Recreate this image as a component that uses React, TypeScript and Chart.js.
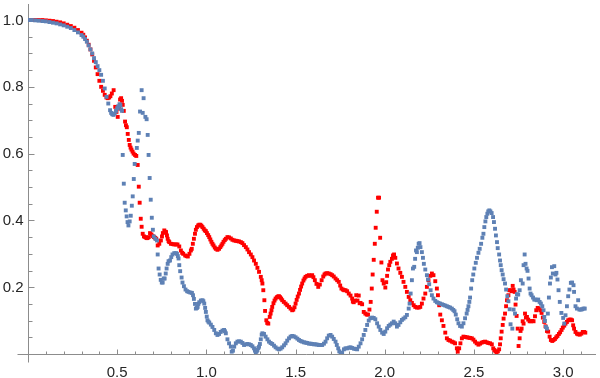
import React, { useEffect, useRef } from "react";
import { Chart, registerables } from "chart.js";

Chart.register(...registerables);

// [x, y] samples
const redSeries: [number, number][] = [
  [0.0, 1.0], [0.02, 1.0], [0.04, 1.0], [0.06, 1.0], [0.08, 1.0], [0.1, 0.999], [0.12, 0.998], [0.14, 0.997],
  [0.16, 0.995], [0.18, 0.993], [0.2, 0.99], [0.22, 0.986], [0.24, 0.982], [0.26, 0.977], [0.28, 0.97], [0.3, 0.962],
  [0.31, 0.956], [0.32, 0.948], [0.33, 0.938], [0.34, 0.926], [0.35, 0.912], [0.36, 0.897], [0.37, 0.878], [0.38, 0.858],
  [0.39, 0.838], [0.4, 0.818], [0.41, 0.8], [0.42, 0.788], [0.43, 0.776], [0.44, 0.768], [0.447, 0.766], [0.455, 0.768],
  [0.462, 0.772], [0.47, 0.78], [0.48, 0.79], [0.489, 0.74], [0.496, 0.725], [0.503, 0.71], [0.51, 0.735], [0.516, 0.762],
  [0.522, 0.766], [0.527, 0.758], [0.531, 0.746], [0.537, 0.728], [0.544, 0.696], [0.549, 0.685], [0.554, 0.679], [0.559, 0.659],
  [0.565, 0.641], [0.57, 0.626], [0.575, 0.618], [0.58, 0.612], [0.586, 0.606], [0.592, 0.6], [0.6, 0.596], [0.607, 0.593],
  [0.615, 0.566], [0.621, 0.501], [0.626, 0.453], [0.632, 0.405], [0.637, 0.381], [0.643, 0.36], [0.65, 0.352], [0.657, 0.35],
  [0.664, 0.347], [0.67, 0.347], [0.677, 0.35], [0.684, 0.362], [0.692, 0.358], [0.699, 0.353], [0.706, 0.35], [0.713, 0.348],
  [0.719, 0.345], [0.727, 0.325], [0.736, 0.33], [0.745, 0.34], [0.751, 0.352], [0.756, 0.362], [0.764, 0.37], [0.77, 0.366],
  [0.774, 0.365], [0.779, 0.355], [0.783, 0.345], [0.788, 0.338], [0.792, 0.335], [0.801, 0.33], [0.81, 0.329], [0.82, 0.328],
  [0.829, 0.328], [0.838, 0.328], [0.848, 0.322], [0.857, 0.31], [0.864, 0.303], [0.87, 0.3], [0.881, 0.295], [0.889, 0.293],
  [0.896, 0.292], [0.905, 0.3], [0.913, 0.31], [0.918, 0.315], [0.924, 0.33], [0.93, 0.345], [0.936, 0.36], [0.941, 0.372],
  [0.947, 0.38], [0.954, 0.385], [0.96, 0.387], [0.966, 0.387], [0.972, 0.384], [0.978, 0.38], [0.985, 0.375], [0.991, 0.37],
  [0.997, 0.368], [1.003, 0.362], [1.01, 0.356], [1.016, 0.35], [1.022, 0.343], [1.028, 0.336], [1.034, 0.33], [1.04, 0.325],
  [1.047, 0.319], [1.053, 0.315], [1.062, 0.312], [1.071, 0.315], [1.078, 0.32], [1.084, 0.325], [1.09, 0.33], [1.096, 0.336],
  [1.103, 0.341], [1.109, 0.345], [1.118, 0.35], [1.127, 0.349], [1.137, 0.346], [1.146, 0.342], [1.156, 0.34], [1.165, 0.339],
  [1.174, 0.338], [1.183, 0.337], [1.193, 0.335], [1.202, 0.332], [1.211, 0.326], [1.221, 0.32], [1.23, 0.313], [1.239, 0.305],
  [1.249, 0.298], [1.258, 0.29], [1.267, 0.28], [1.277, 0.27], [1.286, 0.258], [1.295, 0.246], [1.305, 0.231], [1.31, 0.221],
  [1.314, 0.211], [1.319, 0.191], [1.325, 0.161], [1.329, 0.129], [1.336, 0.101], [1.341, 0.093], [1.347, 0.091], [1.355, 0.111],
  [1.36, 0.121], [1.365, 0.131], [1.369, 0.141], [1.376, 0.152], [1.382, 0.16], [1.388, 0.166], [1.395, 0.17], [1.401, 0.172],
  [1.407, 0.173], [1.413, 0.17], [1.419, 0.166], [1.425, 0.161], [1.434, 0.156], [1.444, 0.151], [1.453, 0.146], [1.463, 0.141],
  [1.472, 0.136], [1.481, 0.131], [1.487, 0.133], [1.494, 0.14], [1.5, 0.151], [1.506, 0.162], [1.512, 0.172], [1.519, 0.181],
  [1.525, 0.192], [1.531, 0.202], [1.537, 0.211], [1.544, 0.22], [1.55, 0.226], [1.556, 0.231], [1.565, 0.234], [1.575, 0.236],
  [1.584, 0.234], [1.593, 0.236], [1.6, 0.23], [1.608, 0.221], [1.617, 0.21], [1.627, 0.201], [1.636, 0.208], [1.646, 0.221],
  [1.655, 0.232], [1.662, 0.238], [1.668, 0.241], [1.677, 0.242], [1.686, 0.241], [1.696, 0.239], [1.705, 0.236], [1.714, 0.232],
  [1.724, 0.226], [1.733, 0.221], [1.742, 0.216], [1.75, 0.205], [1.757, 0.196], [1.765, 0.193], [1.772, 0.191], [1.78, 0.191],
  [1.789, 0.188], [1.798, 0.181], [1.808, 0.175], [1.817, 0.166], [1.821, 0.157], [1.826, 0.155], [1.833, 0.16], [1.84, 0.176],
  [1.847, 0.16], [1.854, 0.175], [1.859, 0.152], [1.864, 0.153], [1.873, 0.149], [1.882, 0.126], [1.891, 0.121], [1.899, 0.118],
  [1.906, 0.118], [1.914, 0.133], [1.921, 0.156], [1.927, 0.196], [1.932, 0.238], [1.938, 0.282], [1.944, 0.33], [1.949, 0.378],
  [1.955, 0.426], [1.962, 0.468], [1.968, 0.468], [1.974, 0.348], [1.981, 0.274], [1.987, 0.221], [1.994, 0.211], [2.003, 0.199],
  [2.008, 0.215], [2.013, 0.234], [2.018, 0.253], [2.025, 0.266], [2.031, 0.276], [2.04, 0.285], [2.046, 0.295], [2.052, 0.298],
  [2.059, 0.288], [2.068, 0.271], [2.077, 0.256], [2.087, 0.243], [2.096, 0.231], [2.105, 0.216], [2.115, 0.201], [2.124, 0.186],
  [2.134, 0.171], [2.143, 0.161], [2.152, 0.153], [2.162, 0.146], [2.171, 0.141], [2.18, 0.139], [2.19, 0.139], [2.199, 0.141],
  [2.208, 0.151], [2.217, 0.166], [2.227, 0.181], [2.236, 0.201], [2.245, 0.221], [2.255, 0.234], [2.264, 0.241], [2.273, 0.236],
  [2.283, 0.218], [2.292, 0.196], [2.298, 0.176], [2.305, 0.146], [2.311, 0.118], [2.32, 0.101], [2.329, 0.084], [2.339, 0.064],
  [2.348, 0.047], [2.357, 0.042], [2.366, 0.04], [2.376, 0.037], [2.385, 0.035], [2.394, 0.032], [2.404, 0.017], [2.409, 0.007],
  [2.417, 0.017], [2.424, 0.032], [2.432, 0.047], [2.441, 0.052], [2.45, 0.051], [2.46, 0.05], [2.469, 0.049], [2.478, 0.048],
  [2.488, 0.047], [2.497, 0.043], [2.506, 0.037], [2.515, 0.032], [2.525, 0.028], [2.534, 0.031], [2.543, 0.034], [2.553, 0.036],
  [2.562, 0.037], [2.571, 0.035], [2.58, 0.033], [2.59, 0.032], [2.6, 0.029], [2.608, 0.017], [2.614, 0.012], [2.62, 0.008],
  [2.627, 0.004], [2.634, 0.008], [2.641, 0.014], [2.646, 0.029], [2.65, 0.047], [2.655, 0.067], [2.661, 0.087], [2.666, 0.106],
  [2.674, 0.121], [2.68, 0.143], [2.685, 0.161], [2.693, 0.176], [2.698, 0.191], [2.705, 0.191], [2.711, 0.188], [2.717, 0.204],
  [2.722, 0.193], [2.728, 0.186], [2.733, 0.148], [2.739, 0.114], [2.745, 0.076], [2.75, 0.024], [2.756, 0.047], [2.761, 0.069],
  [2.767, 0.076], [2.773, 0.098], [2.778, 0.091], [2.786, 0.121], [2.791, 0.109], [2.797, 0.111], [2.804, 0.103], [2.812, 0.098],
  [2.82, 0.098], [2.827, 0.099], [2.834, 0.098], [2.842, 0.113], [2.849, 0.131], [2.857, 0.138], [2.864, 0.136], [2.872, 0.131],
  [2.879, 0.123], [2.886, 0.109], [2.894, 0.096], [2.901, 0.083], [2.909, 0.069], [2.916, 0.067], [2.924, 0.052], [2.931, 0.042],
  [2.939, 0.039], [2.946, 0.042], [2.954, 0.045], [2.961, 0.05], [2.968, 0.054], [2.976, 0.06], [2.983, 0.065], [2.991, 0.072],
  [2.998, 0.079], [3.006, 0.085], [3.013, 0.091], [3.021, 0.096], [3.028, 0.101], [3.036, 0.103], [3.043, 0.103], [3.05, 0.101],
  [3.056, 0.086], [3.061, 0.076], [3.069, 0.066], [3.077, 0.061], [3.084, 0.059], [3.093, 0.058], [3.102, 0.061], [3.11, 0.066],
  [3.117, 0.066], [3.124, 0.064],
];

const blueSeries: [number, number][] = [
  [0.0, 1.0], [0.02, 1.0], [0.04, 0.999], [0.06, 0.998], [0.08, 0.997], [0.1, 0.996], [0.12, 0.994], [0.14, 0.992],
  [0.16, 0.99], [0.18, 0.987], [0.2, 0.984], [0.22, 0.98], [0.24, 0.976], [0.26, 0.97], [0.28, 0.963], [0.3, 0.955],
  [0.31, 0.95], [0.32, 0.943], [0.33, 0.935], [0.34, 0.924], [0.35, 0.912], [0.36, 0.9], [0.37, 0.886], [0.38, 0.874],
  [0.39, 0.862], [0.4, 0.85], [0.41, 0.836], [0.42, 0.818], [0.43, 0.795], [0.44, 0.77], [0.45, 0.75], [0.46, 0.73],
  [0.466, 0.722], [0.472, 0.718], [0.479, 0.716], [0.486, 0.72], [0.493, 0.728], [0.5, 0.736], [0.506, 0.742], [0.513, 0.748],
  [0.518, 0.745], [0.522, 0.733], [0.527, 0.728], [0.531, 0.596], [0.537, 0.51], [0.542, 0.453], [0.548, 0.43], [0.553, 0.412],
  [0.558, 0.395], [0.563, 0.385], [0.57, 0.397], [0.576, 0.414], [0.582, 0.444], [0.587, 0.472], [0.593, 0.524], [0.598, 0.569],
  [0.61, 0.617], [0.615, 0.639], [0.621, 0.662], [0.628, 0.726], [0.637, 0.79], [0.643, 0.722], [0.648, 0.766], [0.658, 0.71],
  [0.665, 0.703], [0.671, 0.656], [0.676, 0.596], [0.682, 0.527], [0.688, 0.462], [0.694, 0.408], [0.7, 0.372], [0.705, 0.352],
  [0.714, 0.345], [0.723, 0.34], [0.727, 0.298], [0.732, 0.256], [0.738, 0.238], [0.744, 0.222], [0.75, 0.214], [0.755, 0.214],
  [0.761, 0.226], [0.766, 0.226], [0.772, 0.241], [0.777, 0.256], [0.783, 0.27], [0.788, 0.278], [0.796, 0.28], [0.803, 0.29],
  [0.81, 0.298], [0.82, 0.302], [0.83, 0.302], [0.835, 0.3], [0.84, 0.293], [0.844, 0.286], [0.848, 0.266], [0.853, 0.248],
  [0.861, 0.229], [0.866, 0.214], [0.874, 0.203], [0.883, 0.193], [0.892, 0.188], [0.9, 0.186], [0.91, 0.184], [0.919, 0.183],
  [0.925, 0.176], [0.93, 0.165], [0.936, 0.15], [0.941, 0.136], [0.947, 0.138], [0.951, 0.141], [0.955, 0.15], [0.96, 0.155],
  [0.969, 0.16], [0.978, 0.161], [0.983, 0.158], [0.988, 0.151], [0.993, 0.138], [0.997, 0.126], [1.002, 0.112], [1.006, 0.101],
  [1.011, 0.097], [1.016, 0.094], [1.025, 0.088], [1.034, 0.081], [1.044, 0.072], [1.053, 0.062], [1.062, 0.057], [1.071, 0.06],
  [1.08, 0.066], [1.09, 0.07], [1.099, 0.072], [1.104, 0.068], [1.109, 0.062], [1.118, 0.044], [1.127, 0.032], [1.137, 0.022],
  [1.142, 0.007], [1.149, 0.01], [1.156, 0.022], [1.165, 0.032], [1.174, 0.037], [1.183, 0.038], [1.193, 0.037], [1.202, 0.033],
  [1.211, 0.027], [1.221, 0.029], [1.23, 0.03], [1.24, 0.029], [1.249, 0.027], [1.258, 0.023], [1.267, 0.017], [1.272, 0.01],
  [1.277, 0.004], [1.282, 0.008], [1.286, 0.012], [1.291, 0.018], [1.295, 0.022], [1.3, 0.03], [1.305, 0.044], [1.31, 0.058],
  [1.314, 0.062], [1.323, 0.06], [1.332, 0.052], [1.342, 0.044], [1.351, 0.037], [1.36, 0.033], [1.369, 0.03], [1.379, 0.025],
  [1.388, 0.02], [1.398, 0.016], [1.407, 0.014], [1.416, 0.016], [1.425, 0.02], [1.435, 0.026], [1.444, 0.032], [1.453, 0.04],
  [1.463, 0.047], [1.472, 0.052], [1.481, 0.054], [1.49, 0.053], [1.5, 0.05], [1.51, 0.046], [1.519, 0.042], [1.528, 0.039],
  [1.537, 0.037], [1.547, 0.035], [1.556, 0.034], [1.565, 0.033], [1.575, 0.031], [1.584, 0.031], [1.593, 0.03], [1.603, 0.029],
  [1.612, 0.029], [1.622, 0.028], [1.631, 0.027], [1.64, 0.027], [1.649, 0.027], [1.659, 0.031], [1.668, 0.037], [1.677, 0.047],
  [1.686, 0.055], [1.696, 0.057], [1.705, 0.052], [1.714, 0.045], [1.724, 0.037], [1.731, 0.027], [1.739, 0.017], [1.745, 0.008],
  [1.752, 0.002], [1.761, 0.004], [1.771, 0.014], [1.78, 0.017], [1.79, 0.017], [1.8, 0.019], [1.808, 0.02], [1.817, 0.018],
  [1.827, 0.016], [1.836, 0.015], [1.845, 0.014], [1.854, 0.022], [1.864, 0.032], [1.873, 0.044], [1.882, 0.057], [1.891, 0.072],
  [1.901, 0.087], [1.91, 0.1], [1.919, 0.107], [1.929, 0.109], [1.938, 0.108], [1.947, 0.104], [1.957, 0.092], [1.966, 0.082],
  [1.975, 0.072], [1.985, 0.064], [1.994, 0.06], [2.003, 0.067], [2.013, 0.077], [2.022, 0.084], [2.031, 0.088], [2.04, 0.092],
  [2.05, 0.097], [2.059, 0.092], [2.068, 0.082], [2.077, 0.087], [2.087, 0.095], [2.096, 0.102], [2.105, 0.106], [2.115, 0.11],
  [2.124, 0.117], [2.134, 0.136], [2.139, 0.151], [2.145, 0.181], [2.152, 0.221], [2.158, 0.256], [2.165, 0.261], [2.17, 0.285],
  [2.175, 0.31], [2.18, 0.305], [2.185, 0.318], [2.19, 0.33], [2.195, 0.332], [2.2, 0.32], [2.208, 0.305], [2.214, 0.288],
  [2.219, 0.27], [2.227, 0.253], [2.236, 0.236], [2.242, 0.223], [2.249, 0.209], [2.257, 0.191], [2.264, 0.176], [2.273, 0.166],
  [2.283, 0.159], [2.292, 0.155], [2.301, 0.153], [2.31, 0.151], [2.32, 0.149], [2.329, 0.147], [2.339, 0.145], [2.348, 0.143],
  [2.357, 0.141], [2.366, 0.139], [2.376, 0.136], [2.384, 0.132], [2.391, 0.128], [2.398, 0.118], [2.406, 0.104], [2.413, 0.092],
  [2.422, 0.084], [2.432, 0.082], [2.441, 0.092], [2.45, 0.107], [2.459, 0.121], [2.464, 0.132], [2.469, 0.143], [2.474, 0.156],
  [2.478, 0.169], [2.484, 0.196], [2.49, 0.221], [2.496, 0.238], [2.502, 0.256], [2.51, 0.273], [2.517, 0.288], [2.525, 0.303],
  [2.532, 0.315], [2.54, 0.33], [2.547, 0.348], [2.553, 0.36], [2.558, 0.38], [2.564, 0.397], [2.569, 0.41], [2.575, 0.42],
  [2.58, 0.427], [2.586, 0.43], [2.592, 0.427], [2.599, 0.422], [2.607, 0.41], [2.612, 0.395], [2.618, 0.375], [2.623, 0.355],
  [2.629, 0.335], [2.633, 0.317], [2.641, 0.298], [2.646, 0.28], [2.65, 0.266], [2.655, 0.251], [2.661, 0.238], [2.666, 0.224],
  [2.674, 0.211], [2.68, 0.193], [2.687, 0.173], [2.693, 0.158], [2.7, 0.134], [2.705, 0.089], [2.715, 0.076], [2.722, 0.133],
  [2.73, 0.121], [2.736, 0.166], [2.741, 0.179], [2.748, 0.178], [2.756, 0.191], [2.763, 0.221], [2.773, 0.211], [2.778, 0.266],
  [2.784, 0.298], [2.789, 0.27], [2.795, 0.256], [2.8, 0.249], [2.806, 0.226], [2.812, 0.196], [2.817, 0.181], [2.823, 0.176],
  [2.831, 0.169], [2.838, 0.163], [2.845, 0.163], [2.853, 0.161], [2.86, 0.163], [2.868, 0.156], [2.875, 0.151], [2.883, 0.143],
  [2.89, 0.131], [2.894, 0.111], [2.898, 0.099], [2.903, 0.081], [2.909, 0.076], [2.914, 0.121], [2.92, 0.169], [2.926, 0.211],
  [2.931, 0.229], [2.937, 0.26], [2.942, 0.241], [2.95, 0.263], [2.957, 0.238], [2.962, 0.243], [2.968, 0.223], [2.974, 0.191],
  [2.981, 0.156], [2.99, 0.123], [3.0, 0.108], [3.006, 0.091], [3.013, 0.116], [3.021, 0.143], [3.028, 0.173], [3.035, 0.193],
  [3.043, 0.213], [3.05, 0.214], [3.058, 0.206], [3.061, 0.186], [3.069, 0.143], [3.077, 0.136], [3.084, 0.161], [3.091, 0.133],
  [3.099, 0.133], [3.106, 0.134], [3.114, 0.136], [3.121, 0.136],
];

const xTickValues = [0.5, 1.0, 1.5, 2.0, 2.5, 3.0];
const xTickLabels = ["0.5", "1.0", "1.5", "2.0", "2.5", "3.0"];
const yTickValues = [0.2, 0.4, 0.6, 0.8, 1.0];
const yTickLabels = ["0.2", "0.4", "0.6", "0.8", "1.0"];
const xMinorStep = 0.1;
const yMinorStep = 0.05;

const RED = "#ff0000";
const BLUE = "#5e81b5";
const AXIS = "#8c8c8c";
const LABEL = "#262626";
const FONT = '15px "Liberation Sans", Arial, sans-serif';

const axesPlugin = {
  id: "mmaAxes",
  beforeDatasetsDraw(chart: any) {
    const ctx = chart.ctx as CanvasRenderingContext2D;
    const xs = chart.scales.x;
    const ys = chart.scales.y;
    const ox = Math.round(xs.getPixelForValue(0)) + 0.5;
    const oy = Math.round(ys.getPixelForValue(0)) + 0.5;
    const right = chart.chartArea.right;
    const top = chart.chartArea.top;
    ctx.save();
    ctx.strokeStyle = AXIS;
    ctx.lineWidth = 1;
    ctx.beginPath();
    ctx.moveTo(ox - 11, oy);
    ctx.lineTo(right, oy);
    ctx.moveTo(ox, top);
    ctx.lineTo(ox, oy + 8);
    for (let v = xMinorStep; v <= xs.max + 1e-9; v += xMinorStep) {
      const isMajor = xTickValues.some((t) => Math.abs(t - v) < 1e-6);
      const px = Math.round(xs.getPixelForValue(v)) + 0.5;
      ctx.moveTo(px, oy);
      ctx.lineTo(px, oy - (isMajor ? 5 : 3));
    }
    for (let v = yMinorStep; v <= ys.max + 1e-9; v += yMinorStep) {
      const isMajor = yTickValues.some((t) => Math.abs(t - v) < 1e-6);
      const py = Math.round(ys.getPixelForValue(v)) + 0.5;
      ctx.moveTo(ox, py);
      ctx.lineTo(ox + (isMajor ? 6 : 4), py);
    }
    ctx.stroke();
    ctx.fillStyle = LABEL;
    ctx.font = FONT;
    ctx.textAlign = "center";
    ctx.textBaseline = "alphabetic";
    xTickValues.forEach((v, i) => {
      ctx.fillText(xTickLabels[i], xs.getPixelForValue(v), oy + 22);
    });
    ctx.textAlign = "right";
    ctx.textBaseline = "middle";
    yTickValues.forEach((v, i) => {
      ctx.fillText(yTickLabels[i], ox - 5, ys.getPixelForValue(v) + 0.5);
    });
    ctx.restore();
  },
};

export default function App() {
  const ref = useRef<HTMLCanvasElement | null>(null);
  useEffect(() => {
    if (!ref.current) return;
    const chart = new Chart(ref.current, {
      type: "scatter",
      data: {
        datasets: [
          {
            label: "blue",
            data: blueSeries.map(([x, y]) => ({ x, y })),
            backgroundColor: BLUE,
            borderWidth: 0,
            pointStyle: "rect",
            pointRadius: 2.75,
          },
          {
            label: "red",
            data: redSeries.map(([x, y]) => ({ x, y })),
            backgroundColor: RED,
            borderWidth: 0,
            pointStyle: "rect",
            pointRadius: 2.75,
          },
        ],
      },
      options: {
        animation: false,
        responsive: false,
        devicePixelRatio: 1,
        layout: { padding: { left: 28, right: 2, top: 3, bottom: 24 } },
        plugins: { legend: { display: false }, tooltip: { enabled: false } },
        scales: {
          x: { type: "linear", min: 0, max: 3.184, display: false },
          y: { type: "linear", min: 0, max: 1.048, display: false },
        },
      },
      plugins: [axesPlugin],
    });
    return () => chart.destroy();
  }, []);
  return (
    <div style={{ position: "absolute", left: 0, top: 0, width: 600, height: 378, background: "#fff" }}>
      <canvas ref={ref} width={600} height={378} />
    </div>
  );
}
